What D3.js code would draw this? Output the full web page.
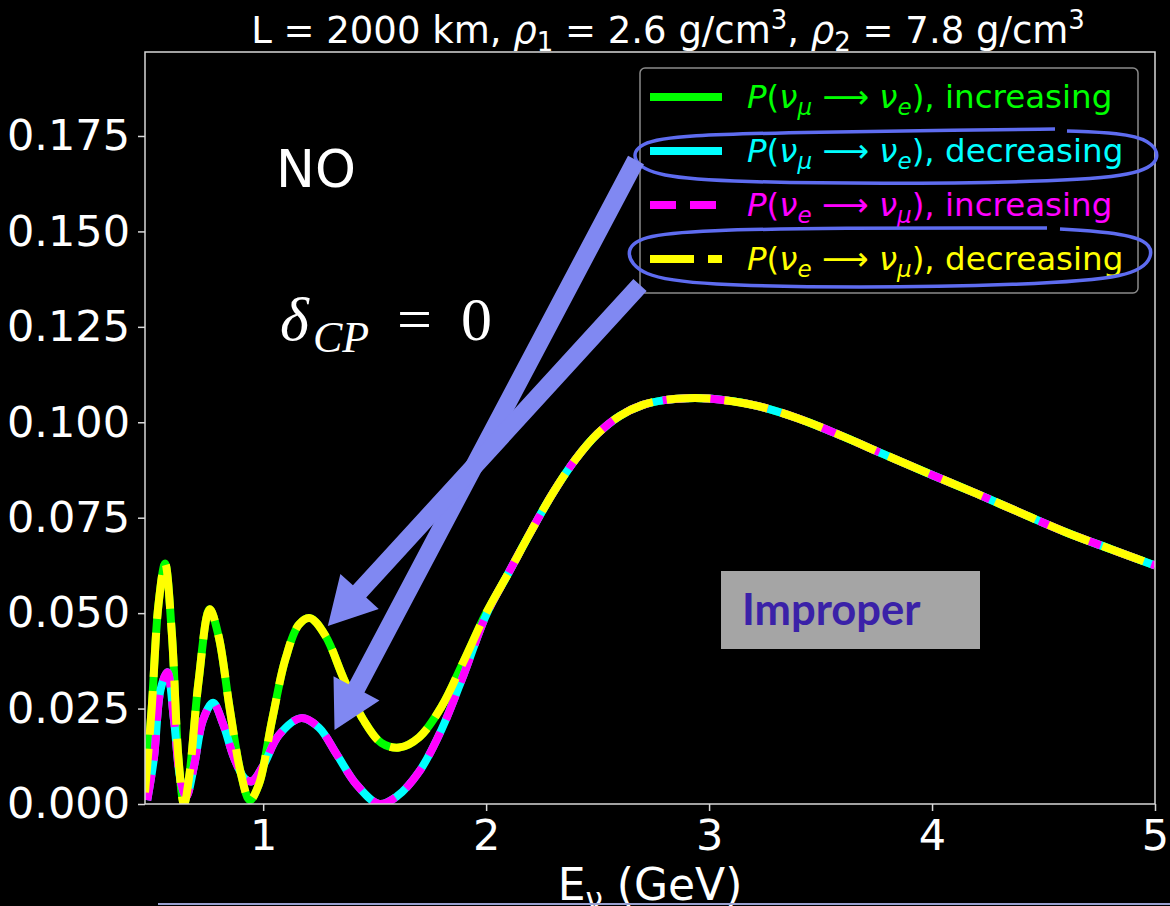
<!DOCTYPE html>
<html>
<head>
<meta charset="utf-8">
<script src="https://cdn.jsdelivr.net/npm/d3@7"></script>
<style>
  body { margin: 0; background: #000; }
  svg text { font-family: "DejaVu Sans", sans-serif; }
</style>
</head>
<body>
<svg id="chart" width="1170" height="906"></svg>
<script>
// values
const xTicks = [1, 2, 3, 4, 5]
const yTicks = [0, 0.025, 0.05, 0.075, 0.1, 0.125, 0.15, 0.175]

// upper branch (nu_mu->nu_e increasing == nu_e->nu_mu decreasing)
const eUpper = [0.47, 0.50, 0.53, 0.56, 0.59, 0.62, 0.645, 0.67, 0.71, 0.76, 0.80, 0.85, 0.90, 0.94, 0.98,
  1.04, 1.10, 1.16, 1.21, 1.28, 1.36, 1.45, 1.53, 1.61, 1.70, 1.80, 1.90, 2.00]
const pUpper = [0.003, 0.025, 0.052, 0.063, 0.045, 0.012, 0.0, 0.008, 0.032, 0.051, 0.044, 0.025, 0.008, 0.001, 0.005,
  0.022, 0.038, 0.047, 0.0487, 0.044, 0.033, 0.022, 0.016, 0.0148, 0.0175, 0.0255, 0.0375, 0.050]

// lower branch (nu_mu->nu_e decreasing == nu_e->nu_mu increasing)
const eLower = [0.48, 0.51, 0.54, 0.57, 0.60, 0.63, 0.655, 0.69, 0.73, 0.775, 0.82, 0.87, 0.92, 0.95, 1.00,
  1.07, 1.17, 1.25, 1.33, 1.42, 1.52, 1.60, 1.70, 1.80, 1.90, 2.00]
const pLower = [0.001, 0.012, 0.030, 0.0345, 0.022, 0.006, 0.002, 0.010, 0.022, 0.0265, 0.021, 0.012, 0.0065, 0.006, 0.010,
  0.018, 0.0225, 0.020, 0.013, 0.005, 0.0, 0.002, 0.0085, 0.0195, 0.034, 0.0495]

// all four coincide above ~2 GeV
const eHigh = [2.1, 2.2, 2.3, 2.4, 2.5, 2.6, 2.7, 2.8, 2.9, 3.0, 3.2, 3.4, 3.6, 3.8, 4.0, 4.2, 4.4, 4.6, 4.8, 5.0]
const pHigh = [0.0605, 0.0713, 0.0815, 0.0902, 0.0970, 0.1017, 0.1045, 0.1058, 0.1063, 0.1062, 0.1045, 0.101, 0.0963, 0.0912,
  0.0862, 0.0813, 0.0762, 0.0712, 0.0668, 0.0625]

const seriesNames = ["muE_inc", "muE_dec", "eMu_inc", "eMu_dec"]
const seriesBranch = ["upper", "lower", "lower", "upper"]
const seriesColors = ["#00ff00", "#00ffff", "#ff00ff", "#ffff00"]
const seriesDash = [null, null, "26,14", "44,14"]
const legendFrom = ["μ", "μ", "e", "e"]
const legendTo = ["e", "e", "μ", "μ"]
const legendWord = ["increasing", "decreasing", "increasing", "decreasing"]

const svg = d3.select("#chart")
svg.append("rect").attr("width", 1170).attr("height", 906).attr("fill", "#000")

const x = d3.scaleLinear().domain([0.47, 5]).range([145, 1155])
const y = d3.scaleLinear().domain([0, 0.197]).range([804, 52])

function branch(name) {
  let e = name == "upper" ? eUpper : eLower
  let p = name == "upper" ? pUpper : pLower
  return e.map((d, i) => [d, p[i]]).concat(eHigh.map((d, i) => [d, pHigh[i]]))
}

svg.append("clipPath").attr("id", "plotclip")
  .append("rect").attr("x", 145).attr("y", 52).attr("width", 1010).attr("height", 752)

const line = d3.line().x(d => x(d[0])).y(d => y(d[1])).curve(d3.curveCatmullRom.alpha(0.5))

svg.append("g").attr("clip-path", "url(#plotclip)")
  .selectAll("path")
  .data(seriesNames)
  .enter()
  .append("path")
  .attr("d", (d, i) => line(branch(seriesBranch[i])))
  .attr("fill", "none")
  .attr("stroke", (d, i) => seriesColors[i])
  .attr("stroke-width", 8)
  .attr("stroke-dasharray", (d, i) => seriesDash[i])

// frame
svg.append("rect").attr("x", 145).attr("y", 52).attr("width", 1010).attr("height", 752)
  .attr("fill", "none").attr("stroke", "#d8d8d8").attr("stroke-width", 1.5)

let xAxis = svg.append("g").attr("transform", "translate(0,804)")
  .call(d3.axisBottom(x).tickValues(xTicks).tickFormat(d3.format("d")).tickSize(7).tickPadding(8))
let yAxis = svg.append("g").attr("transform", "translate(145,0)")
  .call(d3.axisLeft(y).tickValues(yTicks).tickFormat(d3.format(".3f")).tickSize(7).tickPadding(8))
;[xAxis, yAxis].forEach(a => {
  a.select(".domain").remove()
  a.selectAll("line").attr("stroke", "#d8d8d8").attr("stroke-width", 1.5)
  a.selectAll("text").attr("fill", "#fff").attr("font-size", 43)
    .attr("font-family", "DejaVu Sans")
})

// x label
let xl = svg.append("text").attr("x", 650).attr("y", 900).attr("text-anchor", "middle")
  .attr("fill", "#fff").attr("font-size", 44)
xl.append("tspan").text("E")
xl.append("tspan").attr("dy", 9).attr("font-size", 31).text("ν")
xl.append("tspan").attr("dy", -9).text(" (GeV)")

// title
let tt = svg.append("text").attr("x", 668).attr("y", 43).attr("text-anchor", "middle")
  .attr("fill", "#fff").attr("font-size", 37)
tt.append("tspan").text("L = 2000 km, ")
tt.append("tspan").attr("font-style", "italic").text("ρ")
tt.append("tspan").attr("dy", 8).attr("font-size", 26).text("1")
tt.append("tspan").attr("dy", -8).text(" = 2.6 g/cm")
tt.append("tspan").attr("dy", -14).attr("font-size", 26).text("3")
tt.append("tspan").attr("dy", 14).text(", ")
tt.append("tspan").attr("font-style", "italic").text("ρ")
tt.append("tspan").attr("dy", 8).attr("font-size", 26).text("2")
tt.append("tspan").attr("dy", -8).text(" = 7.8 g/cm")
tt.append("tspan").attr("dy", -14).attr("font-size", 26).text("3")

// legend
let lg = svg.append("g")
lg.append("rect").attr("x", 640).attr("y", 68).attr("width", 498).attr("height", 225).attr("rx", 5)
  .attr("fill", "#000").attr("stroke", "#8a8a8a").attr("stroke-width", 1.5)
seriesNames.forEach((s, i) => {
  let cy = 97 + i * 54
  lg.append("line").attr("x1", 650).attr("x2", 722).attr("y1", cy).attr("y2", cy)
    .attr("stroke", seriesColors[i]).attr("stroke-width", 8).attr("stroke-dasharray", seriesDash[i])
  let t = lg.append("text").attr("x", 747).attr("y", cy + 11).attr("fill", seriesColors[i]).attr("font-size", 32.5)
  t.append("tspan").attr("font-style", "italic").text("P")
  t.append("tspan").text("(")
  t.append("tspan").attr("font-style", "italic").text("ν")
  t.append("tspan").attr("font-style", "italic").attr("dy", 7).attr("font-size", 23).text(legendFrom[i])
  t.append("tspan").attr("dy", -7).text(" ⟶ ")
  t.append("tspan").attr("font-style", "italic").text("ν")
  t.append("tspan").attr("font-style", "italic").attr("dy", 7).attr("font-size", 23).text(legendTo[i])
  t.append("tspan").attr("dy", -7).text("), " + legendWord[i])
})

// hand drawn loops round two legend rows
const loopLine = d3.line().curve(d3.curveBasis)
const loops = [
  [[1067, 131], [1120, 133], [1150, 140], [1162, 158], [1140, 176], [1040, 182], [880, 184], [740, 182], [655, 177],
   [631, 160], [638, 143], [680, 135], [820, 132], [960, 130], [1055, 129]],
  [[1060, 229], [1110, 232], [1148, 240], [1154, 256], [1135, 278], [1020, 285], [860, 288], [700, 285], [640, 276],
   [624, 252], [640, 236], [700, 230], [850, 228], [980, 228], [1047, 228]]
]
svg.selectAll(".loop").data(loops).enter().append("path").attr("class", "loop")
  .attr("d", d => loopLine(d)).attr("fill", "none").attr("stroke", "#5e6cf0").attr("stroke-width", 3.5)

// big arrows from legend to curves
function arrow(x0, y0, x1, y1, w, hl, hw) {
  let dx = x1 - x0, dy = y1 - y0, len = Math.hypot(dx, dy)
  let ux = dx / len, uy = dy / len, nx = -uy, ny = ux
  let bx = x1 - ux * hl, by = y1 - uy * hl
  return [[x0 + nx * w / 2, y0 + ny * w / 2], [bx + nx * w / 2, by + ny * w / 2], [bx + nx * hw / 2, by + ny * hw / 2],
    [x1, y1], [bx - nx * hw / 2, by - ny * hw / 2], [bx - nx * w / 2, by - ny * w / 2], [x0 - nx * w / 2, y0 - ny * w / 2]]
}
const arrowTips = [[1.32, 0.0194], [1.29, 0.0466]]
const arrowStarts = [[636, 160], [640, 285]]
arrowTips.forEach((t, i) => {
  let pts = arrow(arrowStarts[i][0], arrowStarts[i][1], x(t[0]), y(t[1]), 18, 47, 52)
  svg.append("path").attr("d", "M" + pts.join("L") + "Z").attr("fill", "#8088f2")
})

// annotations
svg.append("text").attr("x", 276).attr("y", 187).attr("fill", "#fff").attr("font-size", 52)
  .attr("font-family", "Open Sans").text("NO")
let dl = svg.append("text").attr("y", 340).attr("fill", "#fff")
  .style("font-family", "Liberation Serif, serif").attr("font-size", 62)
dl.append("tspan").attr("x", 280).attr("font-style", "italic").text("δ")
dl.append("tspan").attr("x", 313).attr("font-style", "italic").attr("font-size", 44).attr("dy", 12).text("CP")
dl.append("tspan").attr("x", 397).attr("dy", -12).text("=")
dl.append("tspan").attr("x", 461).text("0")

svg.append("rect").attr("x", 721).attr("y", 571).attr("width", 259).attr("height", 78).attr("fill", "#a5a5a5")
svg.append("text").attr("x", 742).attr("y", 625).attr("fill", "#3a21a8").attr("font-size", 43.5)
  .style("font-family", "Lato").attr("font-weight", "bold").text("Improper")

svg.append("line").attr("x1", 158).attr("x2", 1170).attr("y1", 904).attr("y2", 904)
  .attr("stroke", "#9aa0d0").attr("stroke-width", 2)
</script>
</body>
</html>
